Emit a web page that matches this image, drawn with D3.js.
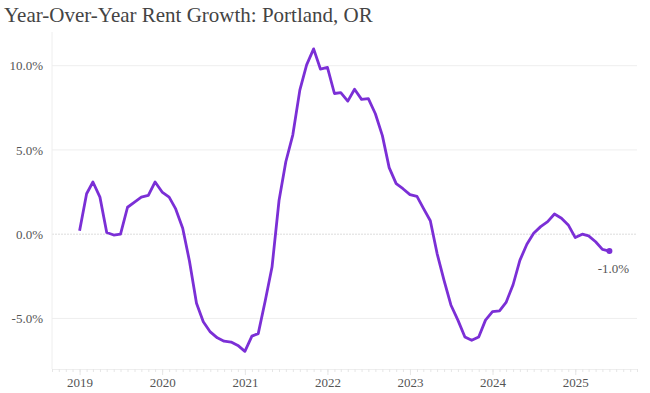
<!DOCTYPE html>
<html>
<head>
<meta charset="utf-8">
<script src="https://cdn.jsdelivr.net/npm/d3@7"></script>
<style>
  body { margin: 0; background: #fff; }
  svg { display: block; }
  text { font-family: "Liberation Serif", "Times New Roman", serif; }
</style>
</head>
<body>
<svg width="650" height="393"></svg>
<script>
// monthly YoY rent growth, Jan 2019 - Jun 2025 (percent)
var startMonth = "2019-01";
var growth2019 = [0.2, 2.4, 3.1, 2.2, 0.1, -0.05, 0.0, 1.6, 1.9, 2.2, 2.3, 3.1];
var growth2020 = [2.5, 2.2, 1.5, 0.35, -1.6, -4.1, -5.2, -5.8, -6.15, -6.35, -6.4, -6.6];
var growth2021 = [-6.95, -6.05, -5.9, -3.95, -1.95, 2.0, 4.3, 5.9, 8.55, 10.05, 11.0, 9.8];
var growth2022 = [9.9, 8.35, 8.4, 7.9, 8.6, 8.0, 8.05, 7.15, 5.85, 3.95, 3.0, 2.7];
var growth2023 = [2.35, 2.25, 1.55, 0.8, -1.15, -2.75, -4.2, -5.1, -6.1, -6.3, -6.1, -5.1];
var growth2024 = [-4.6, -4.55, -4.05, -3.0, -1.55, -0.6, 0.05, 0.45, 0.75, 1.2, 0.95, 0.55];
var growth2025 = [-0.2, 0.0, -0.1, -0.45, -0.9, -1.0];
var yTicks = [-5, 0, 5, 10];
var xTickYears = [2019, 2020, 2021, 2022, 2023, 2024, 2025];

var values = [].concat(growth2019, growth2020, growth2021, growth2022, growth2023, growth2024, growth2025);
var start = d3.timeParse("%Y-%m")(startMonth);
var data = values.map(function(v, i) {
  return { date: d3.timeMonth.offset(start, i), value: v };
});

// plain hyphen for negatives, like the original
var pct = function(v) { return d3.format(".1f")(v).replace("\u2212", "-") + "%"; };

var svg = d3.select("svg");
var plotLeft = 52, plotRight = 637, plotTop = 32, plotBottom = 369;

var x = d3.scaleTime()
  .domain([d3.timeMonth.offset(start, -4), d3.timeMonth.offset(data[data.length - 1].date, 4)])
  .range([plotLeft, plotRight]);
var y = d3.scaleLinear().domain([-8, 12]).range([plotBottom, plotTop]);

// title
svg.append("text")
  .attr("x", 4)
  .attr("y", 22)
  .attr("fill", "#444")
  .style("font-size", "21px")
  .text("Year-Over-Year Rent Growth: Portland, OR");

// grid
svg.append("g")
  .selectAll("line")
  .data(yTicks)
  .enter()
  .append("line")
  .attr("x1", plotLeft)
  .attr("x2", plotRight)
  .attr("y1", function(d) { return y(d); })
  .attr("y2", function(d) { return y(d); })
  .attr("stroke", function(d) { return d === 0 ? "#dcdcdc" : "#eeeeee"; })
  .attr("stroke-dasharray", function(d) { return d === 0 ? "2,1" : null; })
  .attr("stroke-width", 1);

// left frame line
svg.append("line")
  .attr("x1", plotLeft).attr("x2", plotLeft)
  .attr("y1", plotTop).attr("y2", plotBottom)
  .attr("stroke", "#eeeeee");

// y labels
var yAxis = svg.append("g")
  .attr("transform", "translate(" + (plotLeft - 6) + ",0)")
  .call(d3.axisLeft(y).tickValues(yTicks).tickSize(0).tickFormat(pct));
yAxis.select(".domain").remove();
yAxis.selectAll("text")
  .attr("fill", "#555")
  .style("font-size", "13px")
  .style("font-family", "'Liberation Serif', serif");

// x axis: monthly minor ticks, yearly major ticks
var minor = svg.append("g")
  .attr("transform", "translate(0," + plotBottom + ")")
  .call(d3.axisBottom(x).ticks(d3.timeMonth.every(1)).tickSize(3).tickFormat(""));
minor.select(".domain").attr("stroke", "#eeeeee");
minor.selectAll(".tick line").attr("stroke", "#e6e6e6");

var xAxis = svg.append("g")
  .attr("transform", "translate(0," + plotBottom + ")")
  .call(d3.axisBottom(x)
    .tickValues(xTickYears.map(function(yr) { return new Date(yr, 0, 1); }))
    .tickSize(6)
    .tickFormat(d3.timeFormat("%Y")));
xAxis.select(".domain").remove();
xAxis.selectAll(".tick line").attr("stroke", "#e6e6e6");
xAxis.selectAll("text")
  .attr("fill", "#555")
  .attr("y", 7)
  .attr("dy", "0.85em")
  .style("font-size", "13px")
  .style("font-family", "'Liberation Serif', serif");

// line
var line = d3.line()
  .x(function(d) { return x(d.date); })
  .y(function(d) { return y(d.value); });

svg.append("path")
  .datum(data)
  .attr("d", line)
  .attr("fill", "none")
  .attr("stroke", "#7b2fd6")
  .attr("stroke-width", 2.8)
  .attr("stroke-linejoin", "round");

var last = data[data.length - 1];
svg.append("circle")
  .attr("cx", x(last.date))
  .attr("cy", y(last.value))
  .attr("r", 3)
  .attr("fill", "#7b2fd6");

svg.append("text")
  .attr("x", x(last.date) + 4)
  .attr("y", y(last.value) + 22)
  .attr("text-anchor", "middle")
  .attr("fill", "#555")
  .style("font-size", "13px")
  .text(pct(last.value));
</script>
</body>
</html>
